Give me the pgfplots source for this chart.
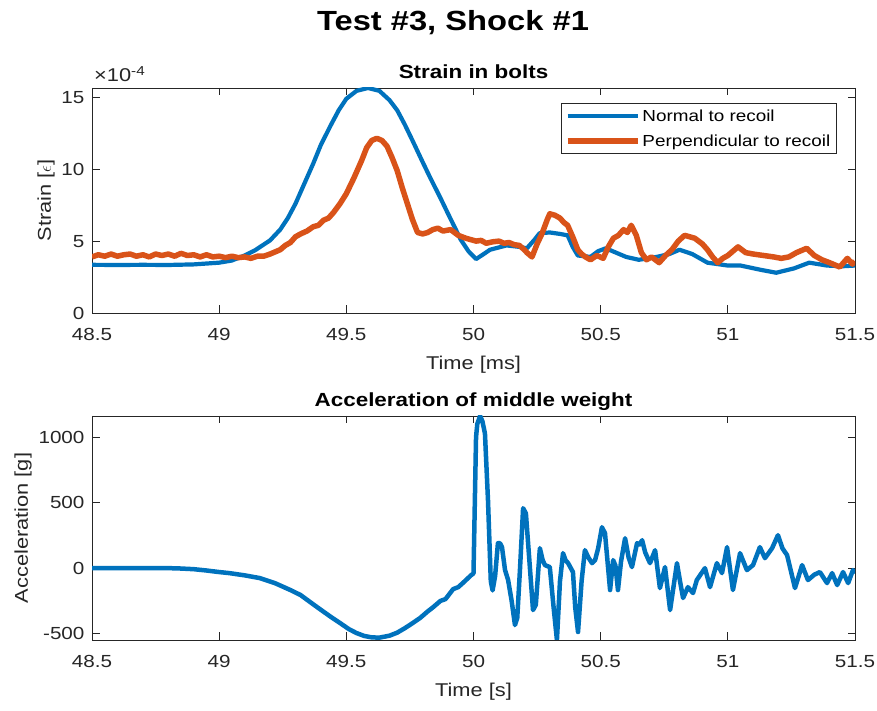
\documentclass[border=0pt]{standalone}
\usepackage{fontspec}
\setmainfont{Liberation Sans}[FakeStretch=1.18]
\usepackage{pgfplots}
\pgfplotsset{compat=1.18}
\definecolor{mblue}{rgb}{0,0.447,0.741}
\definecolor{morange}{rgb}{0.851,0.325,0.098}
\definecolor{axgray}{rgb}{0.15,0.15,0.15}
\pgfplotsset{
  mstyle/.style={
    scale only axis, width=763pt, height=225pt, anchor=south west,
    xmin=48.5, xmax=51.5, xtick={48.5,49,49.5,50,50.5,51,51.5},
    tick align=inside, major tick length=7.5pt,
    axis line style={axgray, line width=0.7pt},
    every tick/.style={axgray, line width=0.7pt},
    tick label style={font=\fontsize{17.5}{20}\selectfont, text=axgray},
    xticklabel style={yshift=-12pt},
    yticklabel style={xshift=-4pt},
    xlabel style={yshift=-8pt},
    label style={font=\fontsize{18.5}{21}\selectfont, text=axgray},
    title style={font=\fontsize{19}{22}\selectfont\bfseries, text=black, at={(0.5,1)}, anchor=base, yshift=3pt},
    /pgf/number format/assume math mode=true,
    /pgf/number format/1000 sep={},
    scaled ticks=false,
  }
}
\begin{document}
\begin{tikzpicture}[x=1pt,y=1pt]
\path[use as bounding box, fill=white] (0,0) rectangle (877,711);
\node[font=\fontsize{27.7}{30}\selectfont\bfseries] at (453,688) {Test \#3, Shock \#1};
\node[anchor=base west, font=\fontsize{18.5}{20}\selectfont, text=axgray, inner sep=0pt] at (94,629) {×10\textsuperscript{-4}};
% ---------------- top axis ----------------
\begin{axis}[mstyle, at={(92pt,398pt)},
  ymin=0, ymax=15.65, ytick={0,5,10,15},
  title={Strain in bolts},
  xlabel={Time [ms]}, ylabel={Strain [$\epsilon$]},
  legend style={at={(0.976,0.933)}, anchor=north east, draw=axgray, line width=0.7pt,
    font=\fontsize{16}{19}\selectfont, text=black, inner xsep=4pt, inner ysep=4pt, row sep=8pt},
  legend cell align=left,
  legend image code/.code={\draw[#1] (0pt,0pt) -- (70pt,0pt);},
]
\addplot[mblue, line width=4.2pt, line join=round] coordinates {
(48.50,3.35) (48.60,3.34) (48.70,3.35) (48.80,3.34) (48.90,3.38) (49.00,3.5) (49.05,3.65)
(49.10,4.0) (49.14,4.35) (49.17,4.7) (49.20,5.05) (49.24,5.8) (49.27,6.6) (49.30,7.6)
(49.33,8.8) (49.37,10.4) (49.40,11.7) (49.44,13.1) (49.47,14.1) (49.50,14.9) (49.54,15.45)
(49.585,15.65) (49.63,15.45) (49.67,14.8) (49.70,14.1) (49.73,13.1) (49.76,12.0)
(49.80,10.5) (49.83,9.4) (49.87,8.0) (49.90,6.9) (49.95,5.1) (49.98,4.3) (50.01,3.75)
(50.04,4.1) (50.065,4.4) (50.13,4.7) (50.18,4.6) (50.21,4.5) (50.24,5.1) (50.26,5.55)
(50.30,5.6) (50.34,5.5) (50.37,5.4) (50.39,4.6) (50.41,4.0) (50.46,3.9) (50.49,4.3)
(50.52,4.5) (50.56,4.2) (50.60,3.9) (50.65,3.7) (50.72,3.9) (50.77,4.1) (50.81,4.4)
(50.86,4.1) (50.92,3.5) (51.00,3.3) (51.05,3.3) (51.13,3.0) (51.19,2.8) (51.26,3.1)
(51.32,3.5) (51.39,3.3) (51.45,3.25) (51.50,3.3)
};
\addlegendentry{Normal to recoil}
\addplot[morange, line width=5.5pt, line join=round] coordinates {
(48.50,3.9) (48.525,4.05) (48.55,3.95) (48.575,4.1) (48.60,3.95) (48.625,4.05) (48.65,4.1)
(48.675,3.95) (48.70,4.05) (48.725,3.9) (48.75,4.1) (48.775,4.0) (48.80,4.1) (48.825,3.95)
(48.85,4.15) (48.875,4.0) (48.90,4.05) (48.925,3.9) (48.95,4.05) (48.975,3.9) (49.00,3.95)
(49.025,3.85) (49.05,3.95) (49.075,3.85) (49.10,3.9) (49.125,3.8) (49.15,3.95) (49.175,3.95)
(49.20,4.1) (49.22,4.25) (49.24,4.4) (49.26,4.7) (49.28,4.9) (49.30,5.3) (49.32,5.5)
(49.345,5.7) (49.37,6.0) (49.39,6.1) (49.41,6.45) (49.43,6.6) (49.45,7.0) (49.475,7.6)
(49.50,8.3) (49.53,9.4) (49.56,10.6) (49.58,11.5) (49.60,12.0) (49.62,12.15)
(49.64,12.0) (49.66,11.6) (49.68,10.8) (49.70,9.9) (49.72,8.7) (49.74,7.6) (49.76,6.5)
(49.78,5.6) (49.80,5.5) (49.82,5.6) (49.84,5.8) (49.86,5.9) (49.88,5.7) (49.91,5.8)
(49.94,5.4) (49.97,5.2) (50.01,5.0) (50.03,5.05) (50.05,4.85) (50.075,4.95) (50.10,5.0)
(50.12,4.85) (50.14,4.9) (50.16,4.75) (50.18,4.7) (50.20,4.4) (50.21,4.2) (50.23,3.9)
(50.25,4.8) (50.27,5.55) (50.29,6.5) (50.30,6.9) (50.32,6.8) (50.34,6.6) (50.355,6.3)
(50.37,6.1) (50.39,5.3) (50.41,4.4) (50.425,4.1) (50.44,3.9) (50.46,3.7) (50.485,4.0)
(50.51,3.8) (50.53,4.6) (50.55,5.2) (50.57,5.4) (50.59,5.8) (50.605,5.6) (50.62,6.1)
(50.64,5.4) (50.66,4.2) (50.68,3.7) (50.70,3.9) (50.73,3.5) (50.755,4.0) (50.78,4.4)
(50.805,5.0) (50.83,5.4) (50.85,5.3) (50.87,5.2) (50.90,4.8) (50.92,4.4) (50.94,3.9)
(50.96,3.5) (50.98,3.8) (51.00,4.0) (51.02,4.3) (51.04,4.6) (51.07,4.2) (51.10,4.1)
(51.14,4.0) (51.18,3.9) (51.21,3.8) (51.24,3.9) (51.27,4.2) (51.31,4.5) (51.34,4.0)
(51.37,3.7) (51.40,3.5) (51.44,3.2) (51.47,3.8) (51.49,3.4) (51.50,3.6)
};
\addlegendentry{Perpendicular to recoil}
\end{axis}
% ---------------- bottom axis ----------------
\begin{axis}[mstyle, at={(92pt,71pt)}, height=224pt,
  ymin=-548, ymax=1160, ytick={-500,0,500,1000},
  title={Acceleration of middle weight},
  xlabel={Time [s]}, ylabel={Acceleration [g]},
]
\addplot[mblue, line width=4.5pt, line join=round] coordinates {
(48.50,0) (48.60,0) (48.70,0) (48.80,0) (48.85,-3) (48.90,-8) (48.95,-18) (49.00,-30)
(49.04,-38) (49.10,-55) (49.16,-76) (49.22,-115) (49.28,-167) (49.32,-205) (49.36,-262)
(49.40,-318) (49.44,-373) (49.48,-425) (49.51,-465) (49.54,-495) (49.57,-517) (49.60,-528)
(49.63,-530) (49.67,-515) (49.70,-492) (49.73,-458) (49.76,-420) (49.79,-380) (49.82,-330)
(49.84,-300) (49.87,-250) (49.89,-236) (49.92,-160) (49.94,-145) (49.96,-110) (49.99,-55)
(50.00,-40) (50.01,1000) (50.015,1100) (50.026,1160) (50.035,1120) (50.045,1027)
(50.057,517) (50.068,-100) (50.075,-170) (50.085,-60) (50.096,190) (50.104,190)
(50.112,160) (50.124,-15) (50.136,-90) (50.150,-250) (50.163,-434) (50.172,-380)
(50.183,0) (50.195,457) (50.206,418) (50.22,50) (50.234,-320) (50.245,-280) (50.261,152)
(50.272,60) (50.281,23) (50.30,8) (50.315,-300) (50.328,-548) (50.340,-100) (50.352,114)
(50.362,60) (50.372,38) (50.391,-30) (50.40,-300) (50.411,-487) (50.425,-100) (50.438,137)
(50.452,80) (50.466,38) (50.478,61) (50.49,150) (50.505,312) (50.517,266) (50.527,50)
(50.537,-167) (50.549,61) (50.558,20) (50.568,-167) (50.58,50) (50.596,228) (50.61,80)
(50.623,8) (50.643,190) (50.653,180) (50.663,213) (50.675,120) (50.694,38) (50.714,137)
(50.733,-152) (50.753,8) (50.773,-320) (50.80,38) (50.812,-100) (50.824,-228) (50.843,-145)
(50.863,-190) (50.878,-91) (50.91,0) (50.93,-145) (50.957,38) (50.977,-38) (50.997,160)
(51.02,-167) (51.048,114) (51.075,-15) (51.099,23) (51.126,160) (51.146,76) (51.174,152)
(51.197,251) (51.215,150) (51.233,99) (51.264,-152) (51.292,23) (51.315,-91) (51.34,-50)
(51.362,-30) (51.39,-114) (51.41,-38) (51.43,-129) (51.453,-30) (51.473,-114) (51.492,-15)
(51.50,-40)
};
\end{axis}
\end{tikzpicture}
\end{document}
